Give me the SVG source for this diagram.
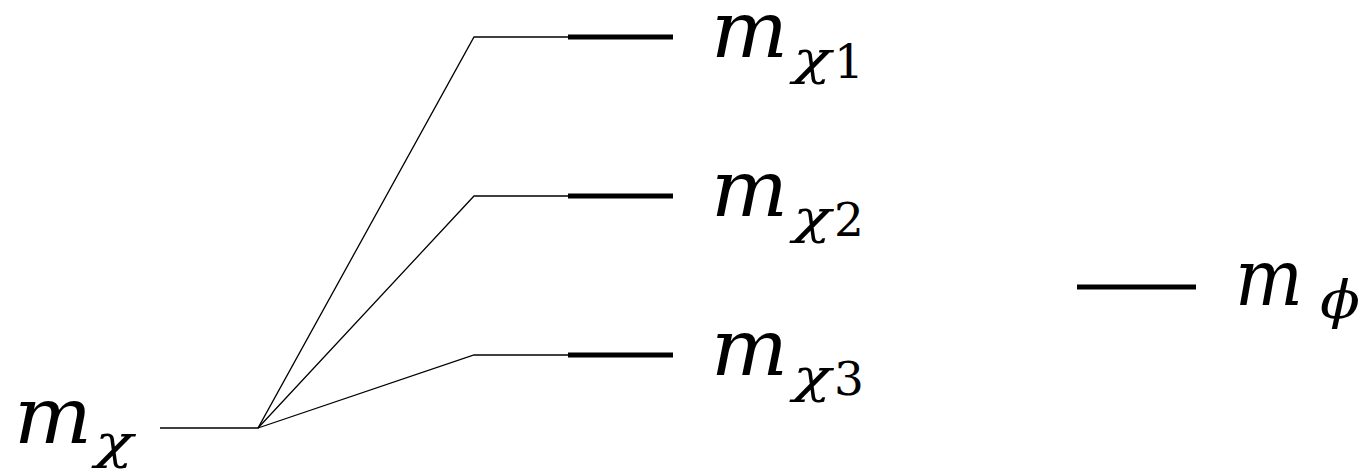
<svg xmlns="http://www.w3.org/2000/svg" width="1364" height="470" viewBox="0 0 1364 470">
<style>
.thin{stroke:#000;stroke-width:1.3;fill:none}
.thick{stroke:#000;stroke-width:5;fill:none}
.m{font-family:"DejaVu Serif","Liberation Serif",serif;font-style:italic;font-size:78px;fill:#000}
.s{font-family:"DejaVu Serif","Liberation Serif",serif;font-style:italic;font-size:46px;fill:#000}
.p{font-size:53px}
.d{font-family:"DejaVu Serif","Liberation Serif",serif;font-style:normal;font-size:47px;fill:#000}
</style>
<rect width="1364" height="470" fill="#fff"/>
<g id="connectors">
<polyline class="thin" points="160,428 258,428 474,37 568,37"/>
<polyline class="thin" points="258,428 474,196 568,196"/>
<polyline class="thin" points="258,428 474,355 568,355"/>
</g>
<g id="level-mchi">
<text class="m" x="14" y="443" textLength="78" lengthAdjust="spacingAndGlyphs">m</text>
<text class="s" x="95" y="458" textLength="38" lengthAdjust="spacingAndGlyphs">χ</text>
</g>
<g id="level-mchi1">
<line class="thick" x1="568" y1="37" x2="673" y2="37"/>
<text class="m" x="711" y="57" textLength="77" lengthAdjust="spacingAndGlyphs">m</text>
<text class="s" x="793" y="74" textLength="38" lengthAdjust="spacingAndGlyphs">χ</text>
<text class="d" x="834" y="78">1</text>
</g>
<g id="level-mchi2">
<line class="thick" x1="568" y1="196" x2="673" y2="196"/>
<text class="m" x="711" y="216" textLength="77" lengthAdjust="spacingAndGlyphs">m</text>
<text class="s" x="793" y="233" textLength="38" lengthAdjust="spacingAndGlyphs">χ</text>
<text class="d" x="834" y="236">2</text>
</g>
<g id="level-mchi3">
<line class="thick" x1="568" y1="355" x2="673" y2="355"/>
<text class="m" x="711" y="375" textLength="77" lengthAdjust="spacingAndGlyphs">m</text>
<text class="s" x="793" y="392" textLength="38" lengthAdjust="spacingAndGlyphs">χ</text>
<text class="d" x="834" y="395">3</text>
</g>
<g id="level-mphi">
<line class="thick" x1="1077" y1="287" x2="1196" y2="287"/>
<text class="m" x="1235" y="305" textLength="68" lengthAdjust="spacingAndGlyphs">m</text>
<text class="s p" x="1320" y="318" textLength="40" lengthAdjust="spacingAndGlyphs">ϕ</text>
</g>
</svg>
